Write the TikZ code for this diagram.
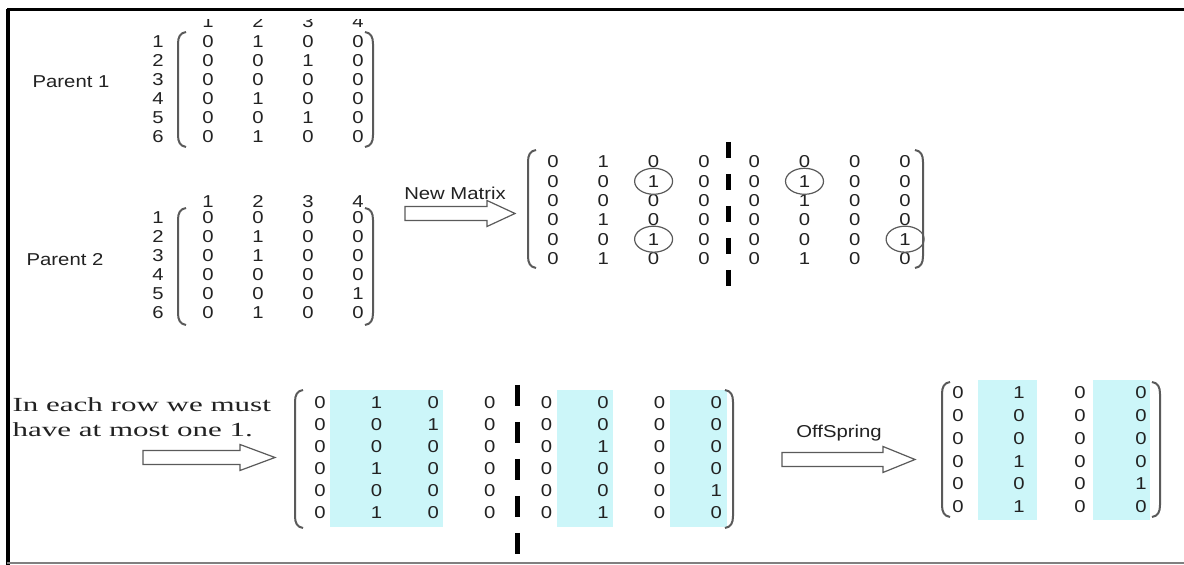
\documentclass[tikz,border=0pt]{standalone}
\usepackage{fontspec}
\setmainfont{Liberation Serif}
\setsansfont{Liberation Sans}
\usetikzlibrary{calc}
\definecolor{MyCyan}{HTML}{CCF6F9}
\definecolor{MyGray}{HTML}{5A5A5A}
\definecolor{MyInk}{HTML}{222222}
\tikzset{
	entry/.style={font=\sffamily\fontsize{8.6}{10}\selectfont, xscale=1.18, inner sep=0pt, MyInk},
	note/.style={font=\fontsize{10}{12.5}\selectfont, xscale=1.55, inner sep=0pt, align=left, anchor=west, MyInk},
	paren/.style={MyGray, line width=1pt},
	ring/.style={MyGray, line width=0.6pt},
	divider/.style={black, line width=2.5pt},
	blockarrow/.style={MyGray, fill=white, line width=0.6pt},
}
% left and right brackets: x, top, bottom
\newcommand{\lpar}[3]{\draw[paren] (#1+8,#2) .. controls (#1+2,#2+1) and (#1,#2+5) .. (#1,#2+12) -- (#1,#3-12) .. controls (#1,#3-5) and (#1+2,#3-1) .. (#1+8,#3);}
\newcommand{\rpar}[3]{\draw[paren] (#1-8,#2) .. controls (#1-2,#2+1) and (#1,#2+5) .. (#1,#2+12) -- (#1,#3-12) .. controls (#1,#3-5) and (#1-2,#3-1) .. (#1-8,#3);}
% block arrow: start, head start, tip, middle
\newcommand{\barrow}[4]{\draw[blockarrow] (#1,#4-7) -- (#2,#4-7) -- (#2,#4-13) -- (#3,#4) -- (#2,#4+13) -- (#2,#4+7) -- (#1,#4+7) -- cycle;}

\begin{document}
\begin{tikzpicture}[x=0.5pt, y=-0.5pt]
	\useasboundingbox (0,0) rectangle (1184,565);
	\fill[white] (0,0) rectangle (1184,565);
	
	% cyan columns
	\fill[MyCyan] (330,390) rectangle (443,527);
	\fill[MyCyan] (557,390) rectangle (613,527);
	\fill[MyCyan] (670,390) rectangle (727,527);
	\fill[MyCyan] (978,380) rectangle (1037,520);
	\fill[MyCyan] (1093,380) rectangle (1150,520);
	
	% frame
	\draw[line width=1.7pt] (7,9.5) -- (1184,9.5);
	\draw[line width=2pt] (7.5,9) -- (7.5,565);
	\draw[gray, line width=0.6pt] (7,563) -- (1184,563);
	
	% Parent 1
	\node[entry] (par1) at (71,82) {Parent 1};
	\begin{scope}
		\clip (100,20) rectangle (400,40);
		\foreach \c in {1,...,4}
			\node[entry] (h1-\c) at (158+50*\c,22) {\c};
	\end{scope}
	\foreach \vals [count=\r] in {{0,1,0,0},{0,0,1,0},{0,0,0,0},{0,1,0,0},{0,0,1,0},{0,1,0,0}}{
		\node[entry] (rl1-\r) at (158,23+19*\r) {\r};
		\foreach \v [count=\c] in \vals
			\node[entry] (p1-\r-\c) at (158+50*\c,23+19*\r) {\v};
	}
	\lpar{178}{32}{147}
	\rpar{373}{32}{147}
	
	% Parent 2
	\node[entry] (par2) at (65,260) {Parent 2};
	\foreach \c in {1,...,4}
		\node[entry] (h2-\c) at (158+50*\c,202) {\c};
	\foreach \vals [count=\r] in {{0,0,0,0},{0,1,0,0},{0,1,0,0},{0,0,0,0},{0,0,0,1},{0,1,0,0}}{
		\node[entry] (rl2-\r) at (158,199+19*\r) {\r};
		\foreach \v [count=\c] in \vals
			\node[entry] (p2-\r-\c) at (158+50*\c,199+19*\r) {\v};
	}
	\lpar{178}{208}{325}
	\rpar{373}{208}{325}
	
	% New matrix
	\node[entry] (newm) at (455,193) {New Matrix};
	\barrow{405}{487}{515}{213.5}
	\foreach \vals [count=\r] in {{0,1,0,0,0,0,0,0},{0,0,1,0,0,1,0,0},{0,0,0,0,0,1,0,0},{0,1,0,0,0,0,0,0},{0,0,1,0,0,0,0,1},{0,1,0,0,0,1,0,0}}{
		\foreach \v [count=\c] in \vals
			\node[entry] (nm-\r-\c) at (502.7+50.3*\c,142.7+19.3*\r) {\v};
	}
	\lpar{528}{150}{268}
	\rpar{923}{150}{268}
	\draw[divider, dash pattern=on 8pt off 8pt] (728,142) -- (728,290);
	\draw[ring] (nm-2-3) ellipse [x radius=19, y radius=13];
	\draw[ring] (nm-2-6) ellipse [x radius=19, y radius=13];
	\draw[ring] (nm-5-3) ellipse [x radius=19, y radius=13];
	\draw[ring] (nm-5-8) ellipse [x radius=19, y radius=13];
	
	% bottom matrix
	\node[note] (rule) at (12,417.5) {In each row we must\\have at most one 1.};
	\barrow{143}{240}{275}{457.5}
	\foreach \vals [count=\r] in {{0,1,0,0,0,0,0,0},{0,0,1,0,0,0,0,0},{0,0,0,0,0,1,0,0},{0,1,0,0,0,0,0,0},{0,0,0,0,0,0,0,1},{0,1,0,0,0,1,0,0}}{
		\foreach \v [count=\c] in \vals
			\node[entry] (bm-\r-\c) at (263.4+56.6*\c,381+22*\r) {\v};
	}
	\lpar{295}{390}{528}
	\rpar{733}{390}{528}
	\draw[divider, dash pattern=on 10.5pt off 8pt] (517,385) -- (517,557);
	
	% offspring
	\node[entry] (offs) at (839,433) {OffSpring};
	\barrow{782}{883}{915}{459.5}
	\foreach \vals [count=\r] in {{0,1,0,0},{0,0,0,0},{0,0,0,0},{0,1,0,0},{0,0,0,1},{0,1,0,0}}{
		\foreach \v [count=\c] in \vals
			\node[entry] (os-\r-\c) at (897+61*\c,370.3+22.7*\r) {\v};
	}
	\lpar{942}{382}{517}
	\rpar{1160}{382}{517}
\end{tikzpicture}
\end{document}
